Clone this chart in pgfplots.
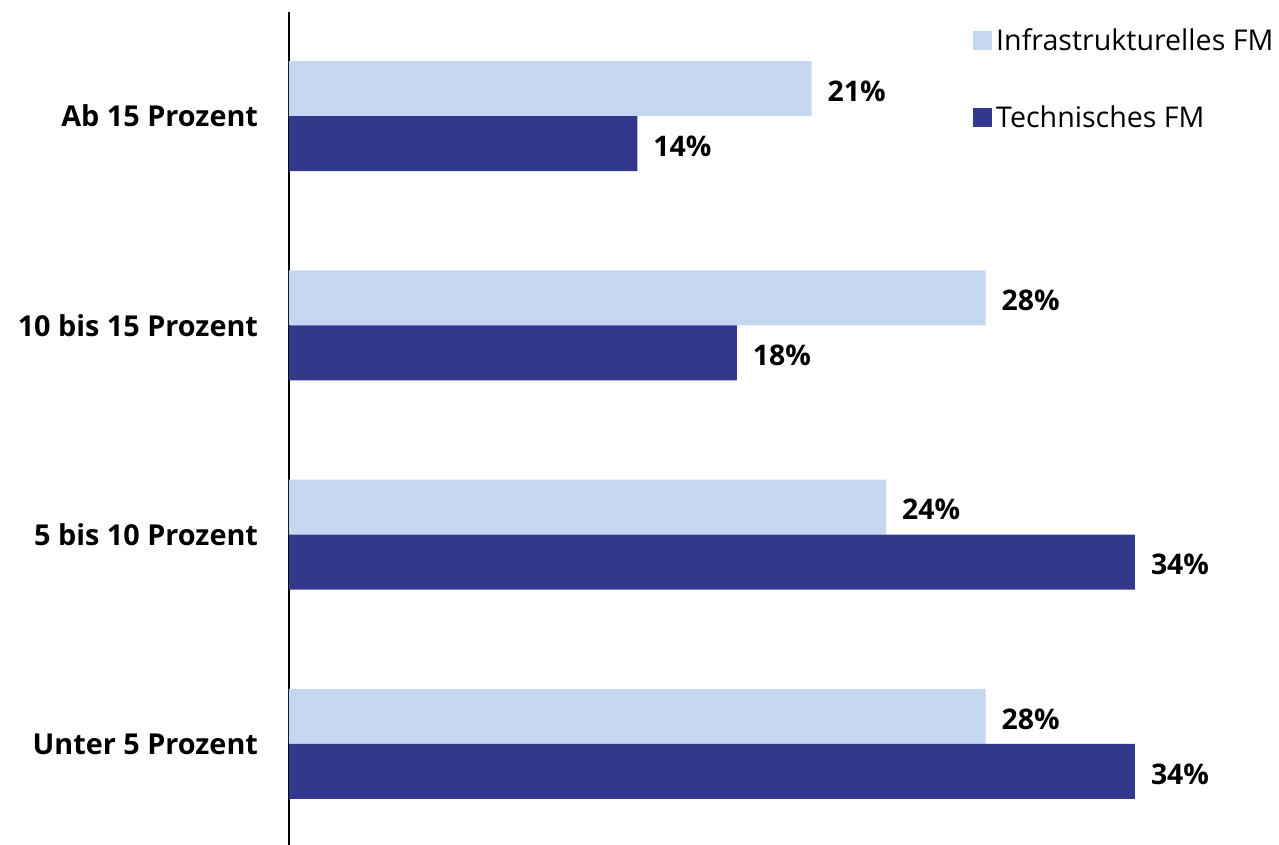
\documentclass[border=0pt]{standalone}
\usepackage{pgfplots}
\pgfplotsset{compat=1.18}
\usepackage{fontspec}
\setmainfont{Open Sans}
\definecolor{lightbar}{RGB}{197,214,241}
\definecolor{darkbar}{RGB}{50,57,140}
\begin{document}
\begin{tikzpicture}
\begin{axis}[
  scale only axis,
  width=491.4pt, height=416.5pt,
  xmin=0, xmax=39.5,
  ymin=-0.4826, ymax=3.497,
  axis x line=none,
  axis y line*=left,
  axis line style={black, line width=1pt, -},
  xbar,
  bar width=27.5pt,
  ytick={0,1,2,3},
  yticklabels={Unter 5 Prozent,5 bis 10 Prozent,10 bis 15 Prozent,Ab 15 Prozent},
  major tick length=0pt,
  yticklabel style={font=\fontsize{14.4}{16}\selectfont\bfseries, xshift=-12pt},
  nodes near coords={\pgfmathprintnumber[assume math mode=true]{\pgfplotspointmeta}\%},
  nodes near coords style={font=\fontsize{14.2}{16}\selectfont\bfseries, anchor=west, xshift=4.5pt, yshift=-1.2pt},
  point meta=x,
  legend style={at={(rel axis cs:1,1)}, anchor=north east, draw=none, fill=none,
    yshift=-6pt, xshift=3pt,
    font=\fontsize{14.3}{16}\selectfont, row sep=22pt, inner sep=0pt,
    /tikz/every even column/.append style={column sep=0pt}},
  legend cell align=left,
  legend image code/.code={\fill[#1] (-2.5pt,-4.7pt) rectangle (7pt,4.8pt);},
]
\addplot[draw=none, fill=lightbar, bar shift=13.75pt] coordinates {(28,0) (24,1) (28,2) (21,3)};
\addlegendentry{Infrastrukturelles FM}
\addplot[draw=none, fill=darkbar, bar shift=-13.75pt] coordinates {(34,0) (34,1) (18,2) (14,3)};
\addlegendentry{Technisches FM}
\end{axis}
\pgfresetboundingbox
\path[use as bounding box] (-144.5pt,0pt) rectangle (495pt,422.5pt);
\end{tikzpicture}
\end{document}
